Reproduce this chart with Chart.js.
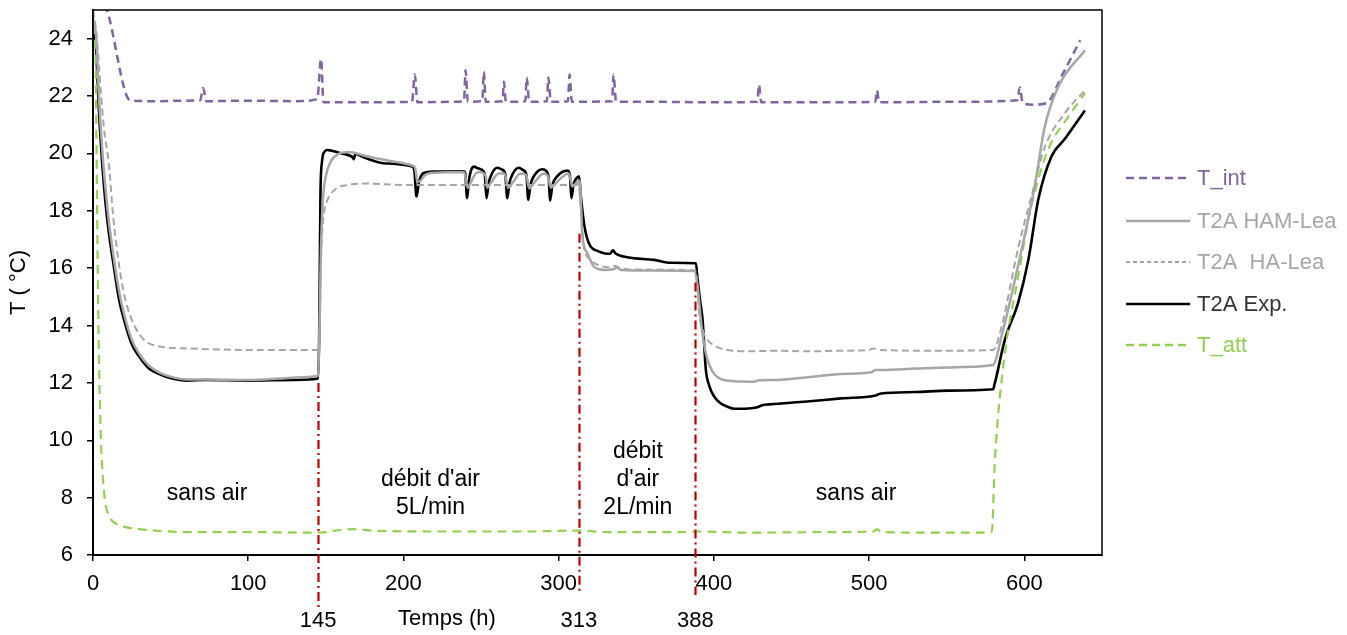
<!DOCTYPE html>
<html><head><meta charset="utf-8">
<script src="https://cdn.jsdelivr.net/npm/chart.js@4.4.1/dist/chart.umd.min.js"></script>
<style>html,body{margin:0;padding:0;background:#fff;}#wrap{width:1347px;height:635px;}</style>
</head><body><div id="wrap"><canvas id="c" width="1347" height="635"></canvas></div>
<script>
const FONT = '"Liberation Sans", Arial, sans-serif';

// ---- data (hours, °C) ----
const tIntH = [0,9,24,40,60,69,71,73,100,130,144.5,146.9,148.5,170,205.5,207.3,209,230,239,240,241.5,250.8,251.8,253,263.8,264.7,266,278.5,279.4,281,292.4,293.3,295,306,307,308.5,334.4,335.3,337,360,400,428,429,430.5,470,504,505,506.5,550,595.5,597,599,606,614,625,636];
const tIntV = [26,25,21.85,21.82,21.84,21.85,22.28,21.82,21.84,21.82,21.9,23.3,21.78,21.78,21.8,22.75,21.78,21.8,21.82,22.9,21.8,21.82,22.85,21.8,21.82,22.5,21.8,21.82,22.65,21.8,21.82,22.65,21.8,21.82,22.75,21.8,21.82,22.75,21.8,21.8,21.78,21.8,22.4,21.78,21.78,21.8,22.2,21.78,21.8,21.85,22.3,21.75,21.7,21.75,22.8,23.95];

const hamH = [0,2,4,6,8,10.3,13,16.8,20,25,30,36,43,51,60,73,100,120,135,145,145.8,146.8,148,150,153,158,165,175,190,205.6,207.5,209,211,214,220,239,241.5,243,246.5,249,253,254,256,261.5,265,267.5,270,275.5,279,281,283,290.5,293,295,297,306.5,308.8,311,313.5,315.3,318.5,322.8,329,335,337.8,340,360,387.3,389.5,391.6,393.5,395.9,399,402.4,408,417.4,426,428,440,460.4,482,501.3,504,507.7,530,550.8,579.8,585.2,596,606.8,613,621.6,639];
const hamV = [24.6,24.1,21.8,20.1,18.8,17.6,16.5,15.2,14.4,13.5,13.0,12.6,12.35,12.2,12.12,12.12,12.1,12.15,12.2,12.25,13.5,16.5,18.3,19.2,19.7,19.98,20.05,19.92,19.75,19.58,19.5,19.0,19.05,19.25,19.33,19.35,18.8,18.95,19.3,19.35,19.2,18.8,18.95,19.3,19.3,18.8,18.95,19.3,19.25,18.78,18.9,19.3,19.2,18.8,18.9,19.3,18.85,18.95,19.05,17.1,16.52,16.05,15.94,15.96,16.02,15.94,15.92,15.9,15.36,14.19,13.4,12.8,12.4,12.2,12.08,12.05,12.04,12.08,12.1,12.2,12.31,12.37,12.45,12.45,12.5,12.54,12.62,13.6,16.1,18.9,20.9,22.3,23.6];

const haH = [0,2,5,7,10.3,13,16.8,20,25,32,40,62,100,145,146,147,148.5,150.5,155,164,175,200,240,313,313.5,315,316.3,320.6,329,333,336,340,350,388,389.5,390.5,393,395.9,402,408.8,420,440,460,480,500,503,507,540,580,585,596,605,613,626,639];
const haV = [25,24.3,22.2,20.9,19.6,17.8,16.1,15.1,14.2,13.55,13.3,13.2,13.15,13.15,14,16.5,17.8,18.3,18.7,18.9,18.95,18.9,18.9,18.9,18.6,17.5,16.75,16.29,16.05,16.03,16.08,16.0,15.95,15.93,15.3,14.43,13.8,13.5,13.25,13.15,13.1,13.12,13.1,13.12,13.15,13.2,13.15,13.12,13.15,13.9,16.7,18.6,20.2,21.4,22.2];

const expH = [0,1.7,4,6,8,10.3,13,16.8,20,25,30,36,43,51,60,73,100,130,145,145.8,146.5,147.5,149,151,153,160,167.5,168,169,175,187,205.6,207,208.4,210,213,219.7,239,239.8,241,242,243.2,245.4,248,251.5,252.5,253.5,254.8,257,260.4,263,265.5,266.9,268.2,270.5,274.4,277,279.2,280.4,281.8,284.5,289.5,292.5,293.6,294.4,296,299,305.6,307.2,308.2,309.5,311,313.1,314.3,316.3,318,320.6,325,329.2,333,335,336.5,344.3,361.5,372.3,388.4,389.5,391,392.7,394.8,397,400.2,404,408.8,413,420,428,431,436,460,481.9,503.4,507.7,530,550.8,579.8,581,587.4,596,602.6,609,617.5,626,639];
const expV = [24.4,23.9,21.3,19.6,18.3,17.2,16.2,14.9,14.2,13.35,12.9,12.5,12.3,12.15,12.08,12.1,12.08,12.1,12.15,14,18.5,19.7,20.05,20.12,20.1,20.0,19.85,19.8,19.98,19.85,19.66,19.54,19.4,18.5,19.0,19.32,19.37,19.38,19.3,18.44,19.0,19.35,19.54,19.48,19.38,19.2,18.44,18.95,19.3,19.5,19.45,19.3,18.44,18.95,19.3,19.5,19.42,19.25,18.38,18.9,19.25,19.45,19.35,19.1,18.35,18.9,19.2,19.4,19.25,18.44,18.9,19.1,19.2,18.5,17.56,17.1,16.75,16.6,16.52,16.5,16.62,16.52,16.38,16.29,16.19,16.17,15.6,14.9,14.19,12.45,11.9,11.52,11.3,11.17,11.1,11.1,11.15,11.22,11.25,11.35,11.46,11.55,11.63,11.68,11.73,11.78,12.0,13.5,14.8,16.3,18.4,19.9,20.5,21.5];

const attH = [0,1,1.7,2.3,2.8,3.8,5,6.5,8,10,14.6,20,30,40,60,100,140,150,160,168,180,220,280,310,315,330,380,390,420,480,503,505,508,540,570,579,581,587.4,596,602.6,610,617.5,626,639];
const attV = [25,24.2,23.1,20,17.2,13,10.2,8.6,7.8,7.4,7.1,6.98,6.9,6.85,6.8,6.8,6.78,6.8,6.88,6.9,6.85,6.82,6.82,6.85,6.85,6.8,6.8,6.82,6.78,6.8,6.82,6.9,6.8,6.78,6.78,6.8,9.3,13,15.7,17.7,19.3,20.4,21.1,22.1];

const xTicks = [0,100,200,300,400,500,600];
const yTicks = [6,8,10,12,14,16,18,20,22,24];
const markerHours = [145, 313, 388];
const markerTops = [12.0, 17.2, 15.5];
const phaseTexts = [["sans air"], ["débit d'air","5L/min"], ["débit","d'air","2L/min"], ["sans air"]];
const phaseCentersH = [73.5, 217.4, 351, 491.6];
const seriesNames = ['T_int','T2A HAM-Lea','T2A  HA-Lea','T2A Exp.','T_att'];

// ---- styles ----
const COL = {int:'#8064A2', ham:'#A6A6A6', ha:'#A6A6A6', exp:'#000000', att:'#92D050', red:'#C00000'};
const pts = (h, v) => h.map((x, i) => ({x, y: v[i]}));
const ds = (label, h, v, color, width, dash) => ({
  label, data: pts(h, v), borderColor: color, backgroundColor: color, borderWidth: width,
  borderDash: dash, pointRadius: 0, cubicInterpolationMode: 'monotone', fill: false
});

const legendStyle = [
  {color: COL.int, text: COL.int, width: 2.5, dash: [8,5]},
  {color: COL.ham, text: COL.ham, width: 2.5, dash: []},
  {color: COL.ha, text: COL.ha, width: 2, dash: [4,3]},
  {color: COL.exp, text: '#333333', width: 2.5, dash: []},
  {color: COL.att, text: COL.att, width: 2.5, dash: [8,5]},
];

const overlay = {
  id: 'overlay',
  afterDraw(chart) {
    const {ctx, chartArea: a, scales: {x, y}} = chart;
    ctx.save();
    // frame
    ctx.strokeStyle = '#000'; ctx.lineWidth = 1.5; ctx.setLineDash([]);
    ctx.strokeRect(a.left, a.top, a.right - a.left, a.bottom - a.top);
    // markers
    ctx.strokeStyle = COL.red; ctx.lineWidth = 2.2; ctx.setLineDash([9,4,2,4]);
    const bottoms = [608, 592, 595];
    markerHours.forEach((h, i) => {
      const px = Math.round(x.getPixelForValue(h)) + 0.5;
      ctx.beginPath(); ctx.moveTo(px, y.getPixelForValue(markerTops[i])); ctx.lineTo(px, bottoms[i]); ctx.stroke();
    });
    ctx.setLineDash([]);
    ctx.fillStyle = '#000'; ctx.font = '22px ' + FONT; ctx.textAlign = 'center'; ctx.textBaseline = 'middle';
    markerHours.forEach(h => ctx.fillText(String(h), x.getPixelForValue(h), 621));
    ctx.fillText('Temps (h)', 447, 619);
    // phase labels
    ctx.font = '23px ' + FONT;
    const lineTs = [[8.13],[8.61,7.64],[9.59,8.61,7.64],[8.13]];
    phaseTexts.forEach((lines, i) => lines.forEach((t, j) =>
      ctx.fillText(t, x.getPixelForValue(phaseCentersH[i]), y.getPixelForValue(lineTs[i][j]))));
    // legend
    const ly = [178, 221, 262, 304, 345];
    ctx.textAlign = 'left'; ctx.font = '22px ' + FONT;
    seriesNames.forEach((n, i) => {
      const s = legendStyle[i];
      ctx.strokeStyle = s.color; ctx.lineWidth = s.width; ctx.setLineDash(s.dash);
      ctx.beginPath(); ctx.moveTo(1126, ly[i]); ctx.lineTo(1190, ly[i]); ctx.stroke();
      ctx.setLineDash([]);
      ctx.fillStyle = s.text; ctx.fillText(n, 1197, ly[i] + 1);
    });
    ctx.restore();
  }
};

new Chart(document.getElementById('c'), {
  type: 'line',
  data: { datasets: [
    ds(seriesNames[2], haH, haV, COL.ha, 2, [7,4]),
    ds(seriesNames[1], hamH, hamV, COL.ham, 2.5, []),
    ds(seriesNames[4], attH, attV, COL.att, 2.2, [9,6]),
    ds(seriesNames[0], tIntH, tIntV, COL.int, 2.5, [8,5]),
    ds(seriesNames[3], expH, expV, COL.exp, 2.6, []),
  ]},
  options: {
    responsive: false, animation: false, devicePixelRatio: 1,
    layout: {padding: {left: 0, top: 10, right: 245, bottom: 0}},
    plugins: {legend: {display: false}, tooltip: {enabled: false}},
    scales: {
      x: {
        type: 'linear', min: 0, max: 650,
        afterBuildTicks: s => { s.ticks = xTicks.map(v => ({value: v})); },
        afterFit: s => { s.height = 80; s.paddingLeft = 0; s.paddingRight = 0; },
        ticks: {font: {family: FONT, size: 22}, color: '#000', padding: 10, maxRotation: 0, includeBounds: false},
        grid: {display: true, drawOnChartArea: false, drawTicks: true, tickLength: 6, color: '#000', lineWidth: 1.5},
        border: {display: true, color: '#000', width: 2}
      },
      y: {
        type: 'linear', min: 6, max: 25,
        afterBuildTicks: s => { s.ticks = yTicks.map(v => ({value: v})); },
        afterFit: s => { s.width = 93; s.paddingTop = 0; s.paddingBottom = 0; },
        ticks: {font: {family: FONT, size: 22}, color: '#000', padding: 14, includeBounds: false},
        grid: {display: true, drawOnChartArea: false, drawTicks: true, tickLength: 6, color: '#000', lineWidth: 1.5},
        border: {display: true, color: '#000', width: 2},
        title: {display: true, text: 'T ( °C)', font: {family: FONT, size: 22}, color: '#000', padding: {top: 6, bottom: 0}}
      }
    }
  },
  plugins: [overlay]
});
</script></body></html>
